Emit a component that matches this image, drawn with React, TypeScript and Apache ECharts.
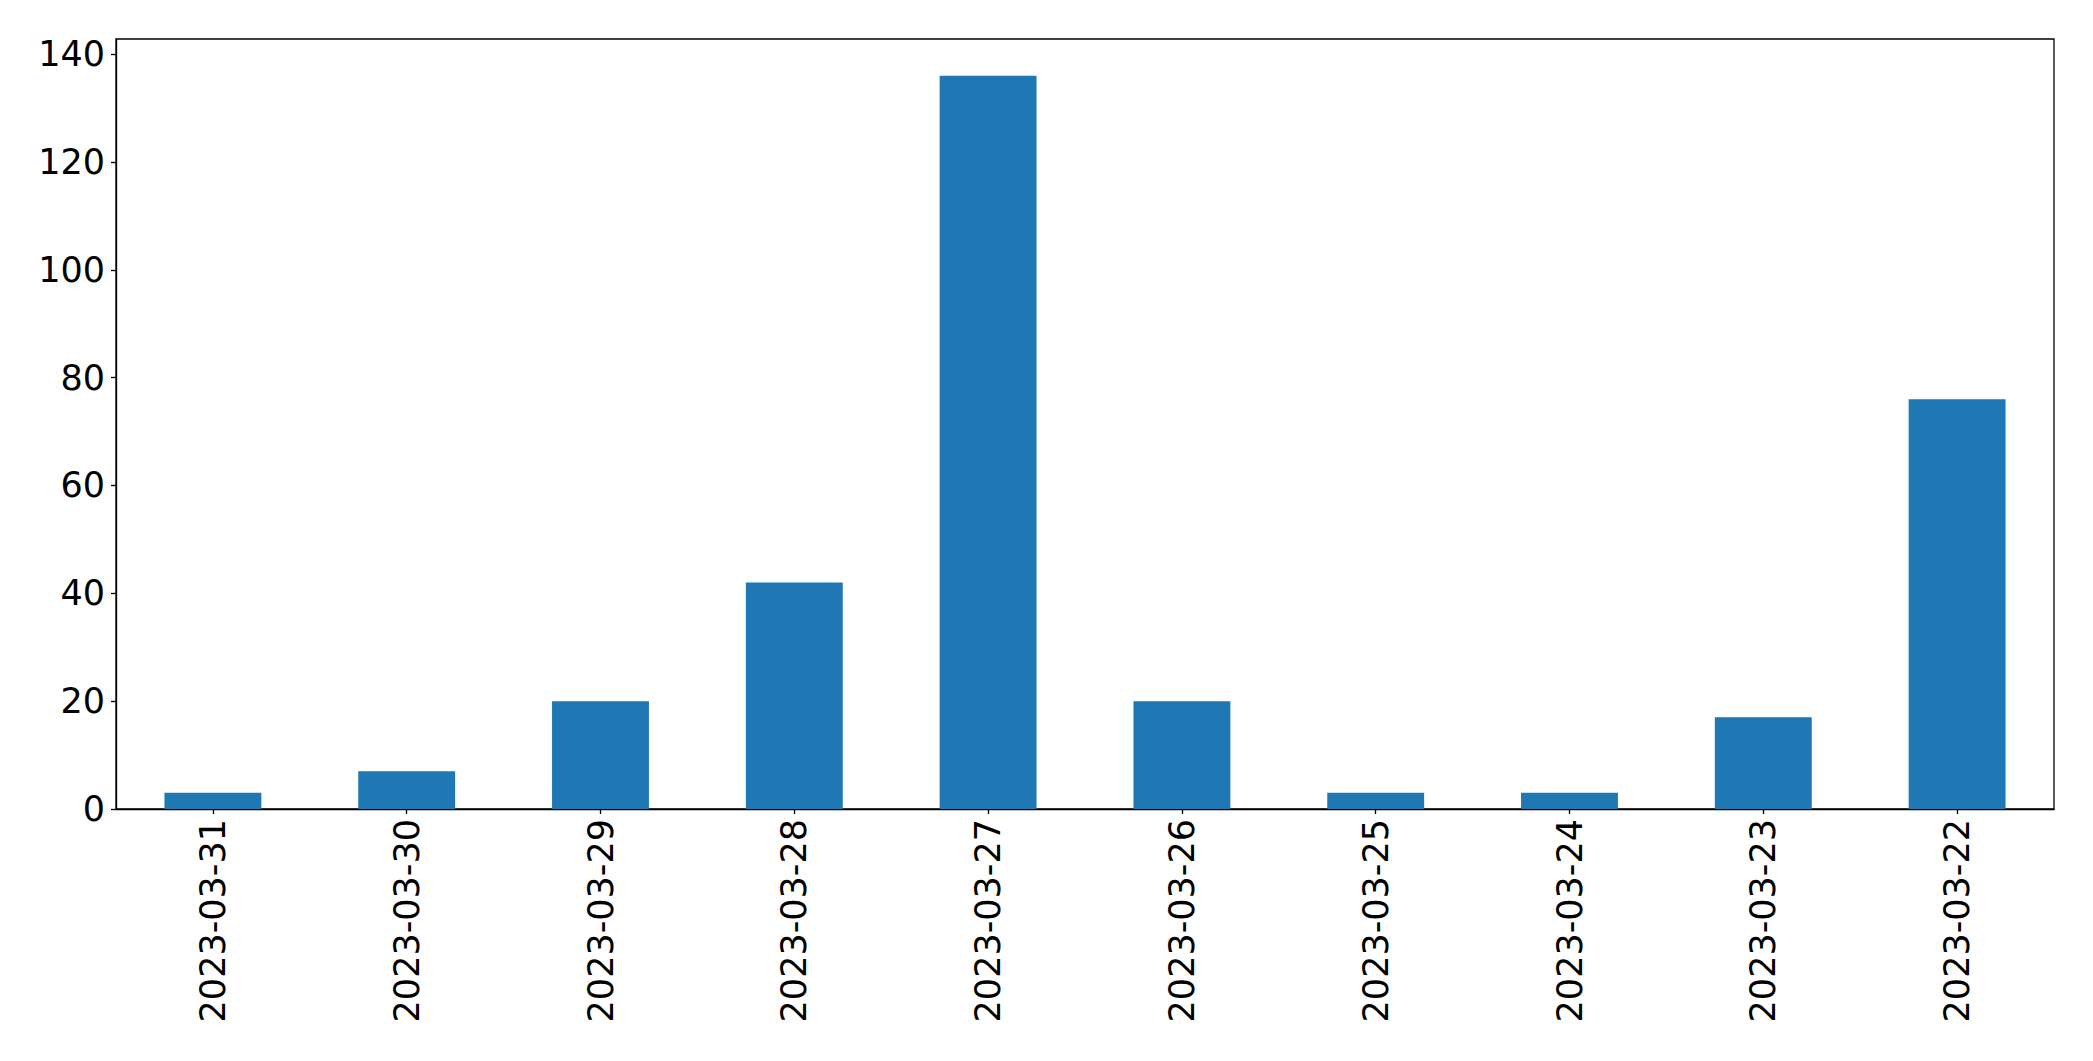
import React, { useEffect, useRef } from "react";
import * as echarts from "echarts";

const categories = [
  "2023-03-31", "2023-03-30", "2023-03-29", "2023-03-28", "2023-03-27",
  "2023-03-26", "2023-03-25", "2023-03-24", "2023-03-23", "2023-03-22",
];
const counts = [3, 7, 20, 42, 136, 20, 3, 3, 17, 76];
const yMax = 142.8;
const yInterval = 20;

export default function App() {
  const ref = useRef<HTMLDivElement>(null);
  useEffect(() => {
    document.body.style.margin = "0";
    const chart = echarts.init(ref.current!, null, { renderer: "svg" });
    const font = "DejaVu Sans";
    chart.setOption({
      animation: false,
      backgroundColor: "#ffffff",
      grid: {
        left: 116,
        top: 39,
        right: 39,
        bottom: 252,
        show: true,
        borderColor: "#000000",
        borderWidth: 1.3,
        backgroundColor: "transparent",
      },
      xAxis: {
        type: "category",
        data: categories,
        boundaryGap: true,
        axisLine: { show: true, lineStyle: { color: "#000000", width: 1.3 } },
        axisTick: { show: true, alignWithLabel: true, length: 5, lineStyle: { color: "#000000", width: 1.3 } },
        axisLabel: {
          rotate: 90,
          margin: 10,
          interval: 0,
          color: "#000000",
          fontFamily: font,
          fontSize: 35,
        },
        splitLine: { show: false },
      },
      yAxis: {
        type: "value",
        min: 0,
        max: yMax,
        interval: yInterval,
        axisLine: { show: true, lineStyle: { color: "#000000", width: 1.3 } },
        axisTick: { show: true, length: 5, lineStyle: { color: "#000000", width: 1.3 } },
        axisLabel: {
          margin: 11,
          color: "#000000",
          fontFamily: font,
          fontSize: 35,
          showMaxLabel: false,
          formatter: (v: number) => (v % yInterval === 0 ? String(v) : ""),
        },
        splitLine: { show: false },
      },
      series: [
        {
          type: "bar",
          data: counts,
          barWidth: "50%",
          itemStyle: { color: "#1f77b4" },
        },
      ],
    });
    return () => chart.dispose();
  }, []);
  return (
    <div
      ref={ref}
      style={{ position: "absolute", left: 0, top: 0, width: 2093, height: 1061 }}
    />
  );
}
